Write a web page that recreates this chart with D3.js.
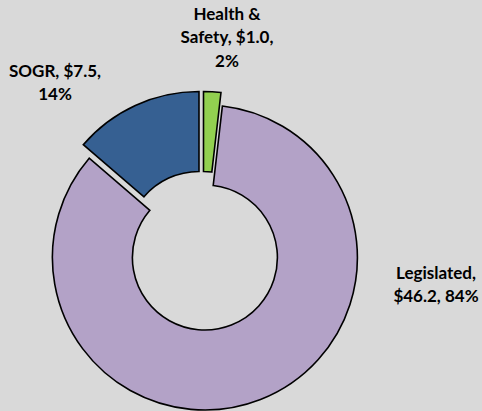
<!DOCTYPE html>
<html>
<head>
<meta charset="utf-8">
<script src="https://cdn.jsdelivr.net/npm/d3@7"></script>
<style>
  html, body { margin: 0; padding: 0; background: #d9d9d9; }
  svg { display: block; }
  .label { font-family: Lato, 'Open Sans', sans-serif; font-weight: 700; font-size: 17px; fill: #000; }
</style>
</head>
<body>
<script>
const categories = ['Health & Safety', 'Legislated', 'SOGR'];
const amounts = [1.0, 46.2, 7.5];
const shares = [2, 84, 14];
const labelLines = [
  ['Health &', 'Safety, $1.0,', '2%'],
  ['Legislated,', '$46.2, 84%'],
  ['SOGR, $7.5,', '14%'],
];

const width = 482;
const height = 411;
const center = [203, 252.7];
const innerR = 72.5;
const outerR = 152.5;
const colors = ['#92d050', '#b3a2c7', '#366092'];
const explode = [8.7, 5.2, 9.6];
const labelPos = [[227, 14], [436, 273], [55, 71]];
const lineGap = 23.5;

const data = categories.map((c, i) => ({
  name: c,
  amount: amounts[i],
  share: shares[i],
  lines: labelLines[i],
}));

const svg = d3
  .select('body')
  .append('svg')
  .attr('width', width)
  .attr('height', height);

svg.append('rect').attr('width', width).attr('height', height).attr('fill', '#d9d9d9');

const pie = d3.pie().sort(null).value(d => d.amount);
const arc = d3.arc().innerRadius(innerR).outerRadius(outerR);
const arcs = pie(data);

const g = svg.append('g').attr('transform', `translate(${center[0]}, ${center[1]})`);

g.selectAll('.slice')
  .data(arcs)
  .enter()
  .append('path')
  .attr('class', 'slice')
  .attr('d', arc)
  .attr('fill', (d, i) => colors[i])
  .attr('stroke', '#000')
  .attr('stroke-width', 1.6)
  .attr('stroke-linejoin', 'miter')
  .attr('transform', (d, i) => {
    const a = (d.startAngle + d.endAngle) / 2;
    const dx = Math.sin(a) * explode[i];
    const dy = -Math.cos(a) * explode[i];
    return `translate(${dx}, ${dy})`;
  });

const labels = svg
  .selectAll('.label')
  .data(data)
  .enter()
  .append('text')
  .attr('class', 'label')
  .attr('text-anchor', 'middle')
  .attr('transform', (d, i) => `translate(${labelPos[i][0]}, ${labelPos[i][1]})`);

labels
  .selectAll('tspan')
  .data(d => d.lines)
  .enter()
  .append('tspan')
  .attr('x', 0)
  .attr('y', (d, i) => i * lineGap)
  .attr('dy', '0.35em')
  .text(d => d);
</script>
</body>
</html>
